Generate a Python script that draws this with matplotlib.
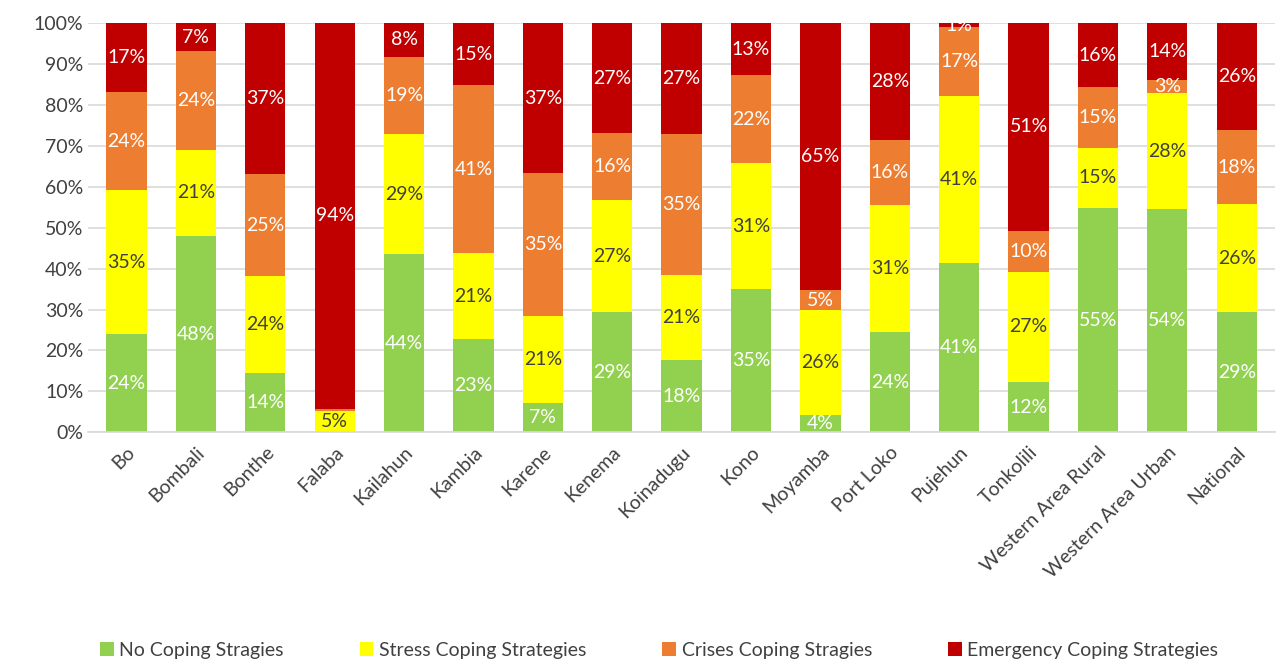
import numpy as np
import matplotlib.pyplot as plt
from matplotlib.ticker import PercentFormatter

plt.rcParams['font.family'] = ['Lato', 'DejaVu Sans']

districts = ["Bo", "Bombali", "Bonthe", "Falaba", "Kailahun", "Kambia", "Karene",
             "Kenema", "Koinadugu", "Kono", "Moyamba", "Port Loko", "Pujehun",
             "Tonkolili", "Western Area Rural", "Western Area Urban", "National"]

no_coping = [24.0, 48.0, 14.4, 0.0, 43.6, 22.8, 7.2, 29.4, 17.6, 35.0, 4.2, 24.5, 41.3,
             12.3, 54.8, 54.5, 29.4]
stress = [35.2, 21.0, 23.7, 5.2, 29.2, 21.0, 21.3, 27.3, 20.8, 30.8, 25.6, 31.0, 41.0,
          27.0, 14.8, 28.4, 26.3]
crises = [23.9, 24.2, 25.1, 0.6, 19.0, 41.0, 34.8, 16.4, 34.6, 21.5, 4.9, 16.0, 16.7,
          10.0, 14.8, 3.1, 18.2]
emergency = [16.9, 6.8, 36.8, 94.2, 8.2, 15.2, 36.7, 26.9, 27.0, 12.7, 65.3, 28.5, 1.0,
             50.7, 15.6, 14.0, 26.1]

series = [
    ("No Coping Stragies", no_coping, "#92d050", "white"),
    ("Stress Coping Strategies", stress, "#ffff00", "#404040"),
    ("Crises Coping Stragies", crises, "#ed7d31", "white"),
    ("Emergency Coping Strategies", emergency, "#c00000", "white"),
]

fig = plt.figure(figsize=(12.8, 6.62), dpi=100)
ax = fig.add_axes([0.069, 0.347, 0.927, 0.618])

x = np.arange(len(districts))
bottom = np.zeros(len(districts))
for name, vals, color, tcolor in series:
    vals = np.array(vals)
    ax.bar(x, vals, 0.58, bottom=bottom, color=color, label=name, zorder=2)
    for i, v in enumerate(vals):
        if v < 0.9:
            continue
        ax.text(x[i], bottom[i] + v / 2, f"{round(v):.0f}%", ha="center", va="center",
                color=tcolor, fontsize=14, zorder=3)
    bottom += vals

ax.set_ylim(0, 100)
ax.set_xlim(-0.55, len(districts) - 0.45)
ax.set_yticks(np.arange(0, 101, 10))
ax.yaxis.set_major_formatter(PercentFormatter(decimals=0))
ax.grid(axis="y", color="#d9d9d9", linewidth=1.2, zorder=0)
ax.set_xticks(x)
ax.set_xticklabels(districts, rotation=45, ha="right", rotation_mode="anchor")
ax.tick_params(axis="both", length=0, labelsize=14, colors="#404040")
ax.tick_params(axis="x", pad=8)
for s in ["top", "right", "left"]:
    ax.spines[s].set_visible(False)
ax.spines["bottom"].set_color("#d9d9d9")
ax.spines["bottom"].set_linewidth(1.2)

fig.legend(loc="lower center", ncol=4, frameon=False, fontsize=14,
           bbox_to_anchor=(0.515, -0.022), handlelength=0.7, handleheight=0.7,
           columnspacing=3.9, handletextpad=0.3, labelcolor="#404040")

fig.savefig("out.png", dpi=100)
